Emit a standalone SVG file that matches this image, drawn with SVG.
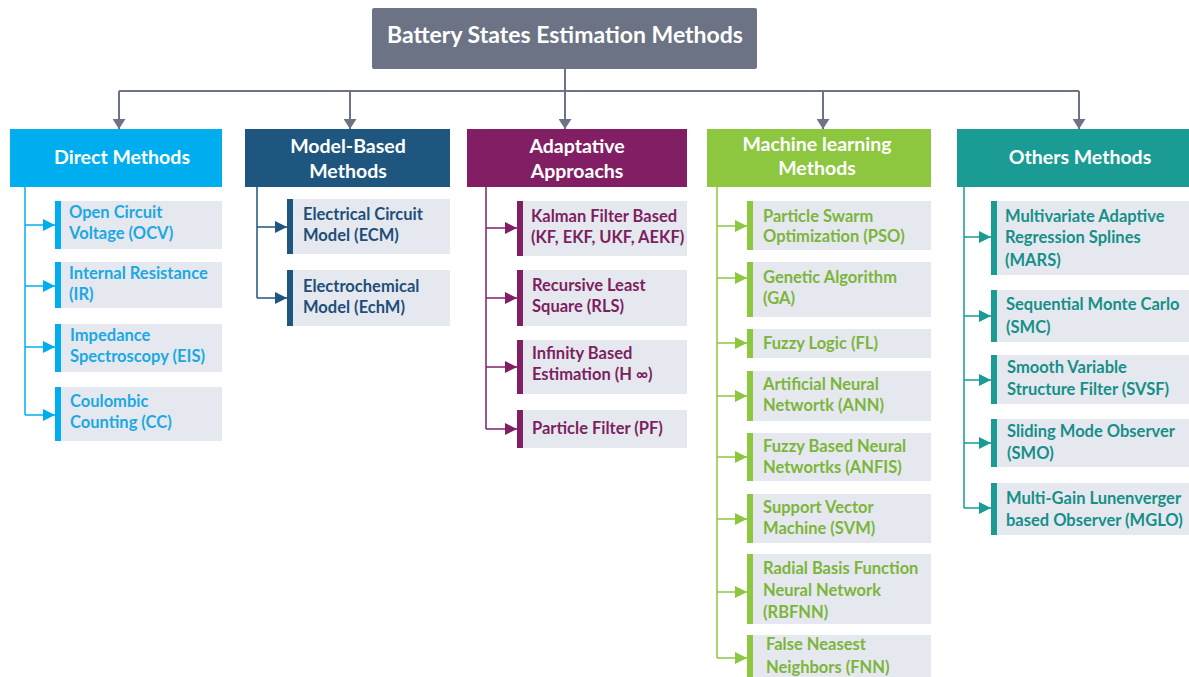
<svg xmlns="http://www.w3.org/2000/svg" width="1189" height="677" viewBox="0 0 1189 677">
<style>
text{font-family:Lato,"Open Sans","Liberation Sans",sans-serif;font-weight:bold}
.t{font-size:23px;fill:#fff;text-anchor:middle}
.h{font-size:19.5px;fill:#fff;text-anchor:middle}
.l{font-size:16.5px}
.leaf{fill:#e5e9ef}
.c1{fill:#1ca8e3}.c2{fill:#1f4e79}.c3{fill:#7d1f5f}.c4{fill:#7cb53a}.c5{fill:#178f89}
.b1{fill:#00aeef}.b2{fill:#1f567f}.b3{fill:#821f64}.b4{fill:#8dc63f}.b5{fill:#1a9b94}
.top{stroke:#6b7385;stroke-width:2;fill:none}
.s1{stroke:#00aeef;stroke-width:1.5;fill:none}
.s2{stroke:#1f567f;stroke-width:1.5;fill:none}
.s3{stroke:#821f64;stroke-width:1.5;fill:none}
.s4{stroke:#8dc63f;stroke-width:1.5;fill:none}
.s5{stroke:#1a9b94;stroke-width:1.5;fill:none}
</style>
<defs>
<marker id="mt" viewBox="0 0 10 13" refX="10" refY="6.5" markerWidth="10" markerHeight="13" markerUnits="userSpaceOnUse" orient="auto"><path d="M0,0L10,6.5L0,13z" fill="#6b7385"/></marker>
<marker id="m1" viewBox="0 0 12 12" refX="12" refY="6" markerWidth="12" markerHeight="12" markerUnits="userSpaceOnUse" orient="auto"><path d="M0,0L12,6L0,12z" fill="#00aeef"/></marker>
<marker id="m2" viewBox="0 0 12 12" refX="12" refY="6" markerWidth="12" markerHeight="12" markerUnits="userSpaceOnUse" orient="auto"><path d="M0,0L12,6L0,12z" fill="#1f567f"/></marker>
<marker id="m3" viewBox="0 0 12 12" refX="12" refY="6" markerWidth="12" markerHeight="12" markerUnits="userSpaceOnUse" orient="auto"><path d="M0,0L12,6L0,12z" fill="#821f64"/></marker>
<marker id="m4" viewBox="0 0 12 12" refX="12" refY="6" markerWidth="12" markerHeight="12" markerUnits="userSpaceOnUse" orient="auto"><path d="M0,0L12,6L0,12z" fill="#8dc63f"/></marker>
<marker id="m5" viewBox="0 0 12 12" refX="12" refY="6" markerWidth="12" markerHeight="12" markerUnits="userSpaceOnUse" orient="auto"><path d="M0,0L12,6L0,12z" fill="#1a9b94"/></marker>
</defs>
<rect width="1189" height="677" fill="#fff"/>

<g id="connectors">
<path class="top" d="M565,69V91M119,91H1079"/>
<path class="top" d="M119,91V129" marker-end="url(#mt)"/>
<path class="top" d="M350,91V129" marker-end="url(#mt)"/>
<path class="top" d="M565,91V129" marker-end="url(#mt)"/>
<path class="top" d="M823,91V129" marker-end="url(#mt)"/>
<path class="top" d="M1079,91V129" marker-end="url(#mt)"/>

<path class="s1" d="M25,187V415"/>
<path class="s1" d="M25,225H55" marker-end="url(#m1)"/>
<path class="s1" d="M25,286H55" marker-end="url(#m1)"/>
<path class="s1" d="M25,347H55" marker-end="url(#m1)"/>
<path class="s1" d="M25,415H55" marker-end="url(#m1)"/>

<path class="s2" d="M257,187V298"/>
<path class="s2" d="M257,227H287" marker-end="url(#m2)"/>
<path class="s2" d="M257,298H287" marker-end="url(#m2)"/>

<path class="s3" d="M486,187V429"/>
<path class="s3" d="M486,228H517" marker-end="url(#m3)"/>
<path class="s3" d="M486,298H517" marker-end="url(#m3)"/>
<path class="s3" d="M486,367H517" marker-end="url(#m3)"/>
<path class="s3" d="M486,429H517" marker-end="url(#m3)"/>

<path class="s4" d="M717,187V658"/>
<path class="s4" d="M717,226H747" marker-end="url(#m4)"/>
<path class="s4" d="M717,278H747" marker-end="url(#m4)"/>
<path class="s4" d="M717,343H747" marker-end="url(#m4)"/>
<path class="s4" d="M717,396H747" marker-end="url(#m4)"/>
<path class="s4" d="M717,457H747" marker-end="url(#m4)"/>
<path class="s4" d="M717,519H747" marker-end="url(#m4)"/>
<path class="s4" d="M717,592H747" marker-end="url(#m4)"/>
<path class="s4" d="M717,658H747" marker-end="url(#m4)"/>

<path class="s5" d="M964,187V508"/>
<path class="s5" d="M964,237H991" marker-end="url(#m5)"/>
<path class="s5" d="M964,316H991" marker-end="url(#m5)"/>
<path class="s5" d="M964,380H991" marker-end="url(#m5)"/>
<path class="s5" d="M964,443H991" marker-end="url(#m5)"/>
<path class="s5" d="M964,508H991" marker-end="url(#m5)"/>
</g>

<g id="root">
<rect x="372" y="8" width="385" height="61" rx="2" fill="#6b7385"/>
<text class="t" x="565" y="43">Battery States Estimation Methods</text>
</g>

<g id="h-direct"><rect class="b1" x="10" y="129" width="212" height="58"/><text class="h" x="122" y="164">Direct Methods</text></g>
<g id="h-model"><rect class="b2" x="245" y="129" width="205" height="58"/><text class="h" x="348" y="153">Model-Based</text><text class="h" x="348" y="178">Methods</text></g>
<g id="h-adapt"><rect class="b3" x="467" y="129" width="220" height="58"/><text class="h" x="577" y="153">Adaptative</text><text class="h" x="577" y="178">Approachs</text></g>
<g id="h-ml"><rect class="b4" x="707" y="129" width="224" height="58"/><text class="h" x="817" y="151">Machine learning</text><text class="h" x="817" y="175">Methods</text></g>
<g id="h-others"><rect class="b5" x="957" y="129" width="232" height="58"/><text class="h" x="1080" y="164">Others Methods</text></g>

<g id="ocv"><rect class="leaf" x="55" y="201" width="167" height="48"/><rect class="b1" x="55" y="201" width="6" height="48"/><text class="l c1" x="69" y="218">Open Circuit</text><text class="l c1" x="69" y="239">Voltage (OCV)</text></g>
<g id="ir"><rect class="leaf" x="55" y="262" width="167" height="46"/><rect class="b1" x="55" y="262" width="6" height="46"/><text class="l c1" x="69" y="279">Internal Resistance</text><text class="l c1" x="69" y="300">(IR)</text></g>
<g id="eis"><rect class="leaf" x="55" y="324" width="167" height="48"/><rect class="b1" x="55" y="324" width="6" height="48"/><text class="l c1" x="70" y="341">Impedance</text><text class="l c1" x="70" y="362">Spectroscopy (EIS)</text></g>
<g id="cc"><rect class="leaf" x="55" y="387" width="167" height="54"/><rect class="b1" x="55" y="387" width="6" height="54"/><text class="l c1" x="70" y="407">Coulombic</text><text class="l c1" x="70" y="428">Counting (CC)</text></g>

<g id="ecm"><rect class="leaf" x="287" y="199" width="163" height="55"/><rect class="b2" x="287" y="199" width="6" height="55"/><text class="l c2" x="303" y="220">Electrical Circuit</text><text class="l c2" x="303" y="241">Model (ECM)</text></g>
<g id="echm"><rect class="leaf" x="287" y="270" width="163" height="56"/><rect class="b2" x="287" y="270" width="6" height="56"/><text class="l c2" x="303" y="292">Electrochemical</text><text class="l c2" x="303" y="313">Model (EchM)</text></g>

<g id="kf"><rect class="leaf" x="517" y="201" width="170" height="55"/><rect class="b3" x="517" y="201" width="6" height="55"/><text class="l c3" x="531" y="222">Kalman Filter Based</text><text class="l c3" x="531" y="243">(KF, EKF, UKF, AEKF)</text></g>
<g id="rls"><rect class="leaf" x="517" y="270" width="170" height="56"/><rect class="b3" x="517" y="270" width="6" height="56"/><text class="l c3" x="532" y="291">Recursive Least</text><text class="l c3" x="532" y="312">Square (RLS)</text></g>
<g id="hinf"><rect class="leaf" x="517" y="340" width="170" height="54"/><rect class="b3" x="517" y="340" width="6" height="54"/><text class="l c3" x="532" y="359">Infinity Based</text><text class="l c3" x="532" y="380">Estimation (H ∞)</text></g>
<g id="pf"><rect class="leaf" x="517" y="410" width="170" height="38"/><rect class="b3" x="517" y="410" width="6" height="38"/><text class="l c3" x="532" y="434">Particle Filter (PF)</text></g>

<g id="pso"><rect class="leaf" x="747" y="201" width="184" height="49"/><rect class="b4" x="747" y="201" width="6" height="49"/><text class="l c4" x="763" y="222">Particle Swarm</text><text class="l c4" x="763" y="242">Optimization (PSO)</text></g>
<g id="ga"><rect class="leaf" x="747" y="262" width="184" height="55"/><rect class="b4" x="747" y="262" width="6" height="55"/><text class="l c4" x="763" y="283">Genetic Algorithm</text><text class="l c4" x="763" y="304">(GA)</text></g>
<g id="fl"><rect class="leaf" x="747" y="329" width="184" height="29"/><rect class="b4" x="747" y="329" width="6" height="29"/><text class="l c4" x="763" y="349">Fuzzy Logic (FL)</text></g>
<g id="ann"><rect class="leaf" x="747" y="371" width="184" height="50"/><rect class="b4" x="747" y="371" width="6" height="50"/><text class="l c4" x="763" y="390">Artificial Neural</text><text class="l c4" x="763" y="411">Networtk (ANN)</text></g>
<g id="anfis"><rect class="leaf" x="747" y="433" width="184" height="48"/><rect class="b4" x="747" y="433" width="6" height="48"/><text class="l c4" x="763" y="452">Fuzzy Based Neural</text><text class="l c4" x="763" y="473">Networtks (ANFIS)</text></g>
<g id="svm"><rect class="leaf" x="747" y="494" width="184" height="49"/><rect class="b4" x="747" y="494" width="6" height="49"/><text class="l c4" x="763" y="513">Support Vector</text><text class="l c4" x="763" y="534">Machine (SVM)</text></g>
<g id="rbfnn"><rect class="leaf" x="747" y="554" width="184" height="70"/><rect class="b4" x="747" y="554" width="6" height="70"/><text class="l c4" x="763" y="574">Radial Basis Function</text><text class="l c4" x="763" y="596">Neural Network</text><text class="l c4" x="763" y="618">(RBFNN)</text></g>
<g id="fnn"><rect class="leaf" x="747" y="635" width="184" height="42"/><rect class="b4" x="747" y="635" width="6" height="42"/><text class="l c4" x="766" y="650">False Neasest</text><text class="l c4" x="766" y="673">Neighbors (FNN)</text></g>

<g id="mars"><rect class="leaf" x="991" y="201" width="198" height="74"/><rect class="b5" x="991" y="201" width="6" height="74"/><text class="l c5" x="1005" y="222">Multivariate Adaptive</text><text class="l c5" x="1005" y="243">Regression Splines</text><text class="l c5" x="1005" y="266">(MARS)</text></g>
<g id="smc"><rect class="leaf" x="991" y="290" width="198" height="52"/><rect class="b5" x="991" y="290" width="6" height="52"/><text class="l c5" x="1006" y="310">Sequential Monte Carlo</text><text class="l c5" x="1006" y="333">(SMC)</text></g>
<g id="svsf"><rect class="leaf" x="991" y="355" width="198" height="49"/><rect class="b5" x="991" y="355" width="6" height="49"/><text class="l c5" x="1007" y="373">Smooth Variable</text><text class="l c5" x="1007" y="395">Structure Filter (SVSF)</text></g>
<g id="smo"><rect class="leaf" x="991" y="419" width="198" height="48"/><rect class="b5" x="991" y="419" width="6" height="48"/><text class="l c5" x="1007" y="437">Sliding Mode Observer</text><text class="l c5" x="1007" y="459">(SMO)</text></g>
<g id="mglo"><rect class="leaf" x="991" y="483" width="198" height="52"/><rect class="b5" x="991" y="483" width="6" height="52"/><text class="l c5" x="1006" y="504">Multi-Gain Lunenverger</text><text class="l c5" x="1006" y="526">based Observer (MGLO)</text></g>
</svg>
